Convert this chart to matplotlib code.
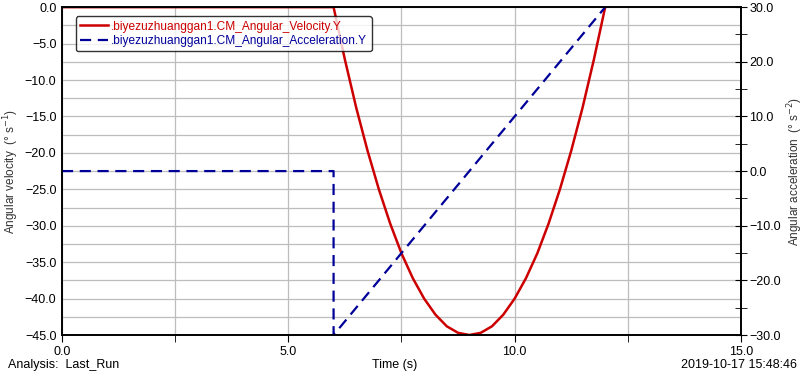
import matplotlib
matplotlib.use("Agg")
import matplotlib.pyplot as plt
from matplotlib.ticker import MultipleLocator

plt.rcParams["font.family"] = ["Liberation Sans", "DejaVu Sans"]
plt.rcParams["font.size"] = 9

# 角速度
t_vel = [0.0, 6.0, 6.25, 6.5, 6.75, 7.0, 7.25, 7.5, 7.75, 8.0, 8.25, 8.5, 8.75, 9.0,
         9.25, 9.5, 9.75, 10.0, 10.25, 10.5, 10.75, 11.0, 11.25, 11.5, 11.75, 12.0]
vel = [0.0, 0.0, -7.2, -13.8, -19.7, -25.0, -29.7, -33.8, -37.2, -40.0, -42.2, -43.8, -44.7, -45.0,
       -44.7, -43.8, -42.2, -40.0, -37.2, -33.8, -29.7, -25.0, -19.7, -13.8, -7.2, 0.0]

# 角加速度
t_acc = [0.0, 6.0, 6.0, 12.0]
acc = [0.0, 0.0, -30.0, 30.0]

red = "#cc0000"
blue = "#000099"

fig = plt.figure(figsize=(8.07, 3.76), dpi=100)
ax = fig.add_axes([0.0768, 0.109, 0.8414, 0.872])
ax2 = ax.twinx()

l1, = ax.plot(t_vel, vel, color=red, lw=1.8,
              label=".biyezuzhuanggan1.CM_Angular_Velocity.Y")
l2, = ax2.plot(t_acc, acc, color=blue, lw=1.6, dashes=(5, 3),
               label=".biyezuzhuanggan1.CM_Angular_Acceleration.Y")

ax.set_xlim(0, 15)
ax.set_ylim(-45, 0)
ax2.set_ylim(-30, 30)

ax.xaxis.set_major_locator(MultipleLocator(5))
ax.xaxis.set_minor_locator(MultipleLocator(2.5))
ax.yaxis.set_major_locator(MultipleLocator(5))
ax.yaxis.set_minor_locator(MultipleLocator(2.5))
ax2.yaxis.set_major_locator(MultipleLocator(10))
ax2.yaxis.set_minor_locator(MultipleLocator(5))
ax.xaxis.set_major_formatter("{x:.1f}")
ax.yaxis.set_major_formatter("{x:.1f}")
ax2.yaxis.set_major_formatter("{x:.1f}")

ax.grid(True, which="both", color="#bdbdbd", lw=0.9)
ax.tick_params(axis="x", which="both", direction="out", length=5, pad=3)
ax.tick_params(axis="y", which="both", length=0, pad=4)
ax2.tick_params(axis="y", which="both", direction="inout", length=8, pad=2)

for sp in list(ax.spines.values()) + list(ax2.spines.values()):
    sp.set_linewidth(1.2)
    sp.set_color("black")

ax.set_ylabel("Angular velocity  (° s$^{-1}$)", color="#333333", fontsize=8.5)
ax2.set_ylabel("Angular acceleration  (° s$^{-2}$)", color="#333333", fontsize=8.5)
ax.yaxis.set_label_coords(-0.060, 0.5)
ax2.yaxis.set_label_coords(1.066, 0.5)

leg = ax.legend([l1, l2], [l1.get_label(), l2.get_label()],
                loc="upper left", bbox_to_anchor=(0.012, 0.99),
                frameon=True, fancybox=True, edgecolor="black",
                handlelength=2.3, handletextpad=0.3, borderpad=0.35,
                labelspacing=0.2, fontsize=8.6)
leg.get_frame().set_linewidth(1.0)
for txt, c in zip(leg.get_texts(), [red, blue]):
    txt.set_color(c)

fig.text(0.489, 0.03, "Time (s)", ha="center", va="center")
fig.text(0.01, 0.03, "Analysis:  Last_Run", ha="left", va="center")
fig.text(0.988, 0.03, "2019-10-17 15:48:46", ha="right", va="center")

fig.savefig("out.png", dpi=100)
